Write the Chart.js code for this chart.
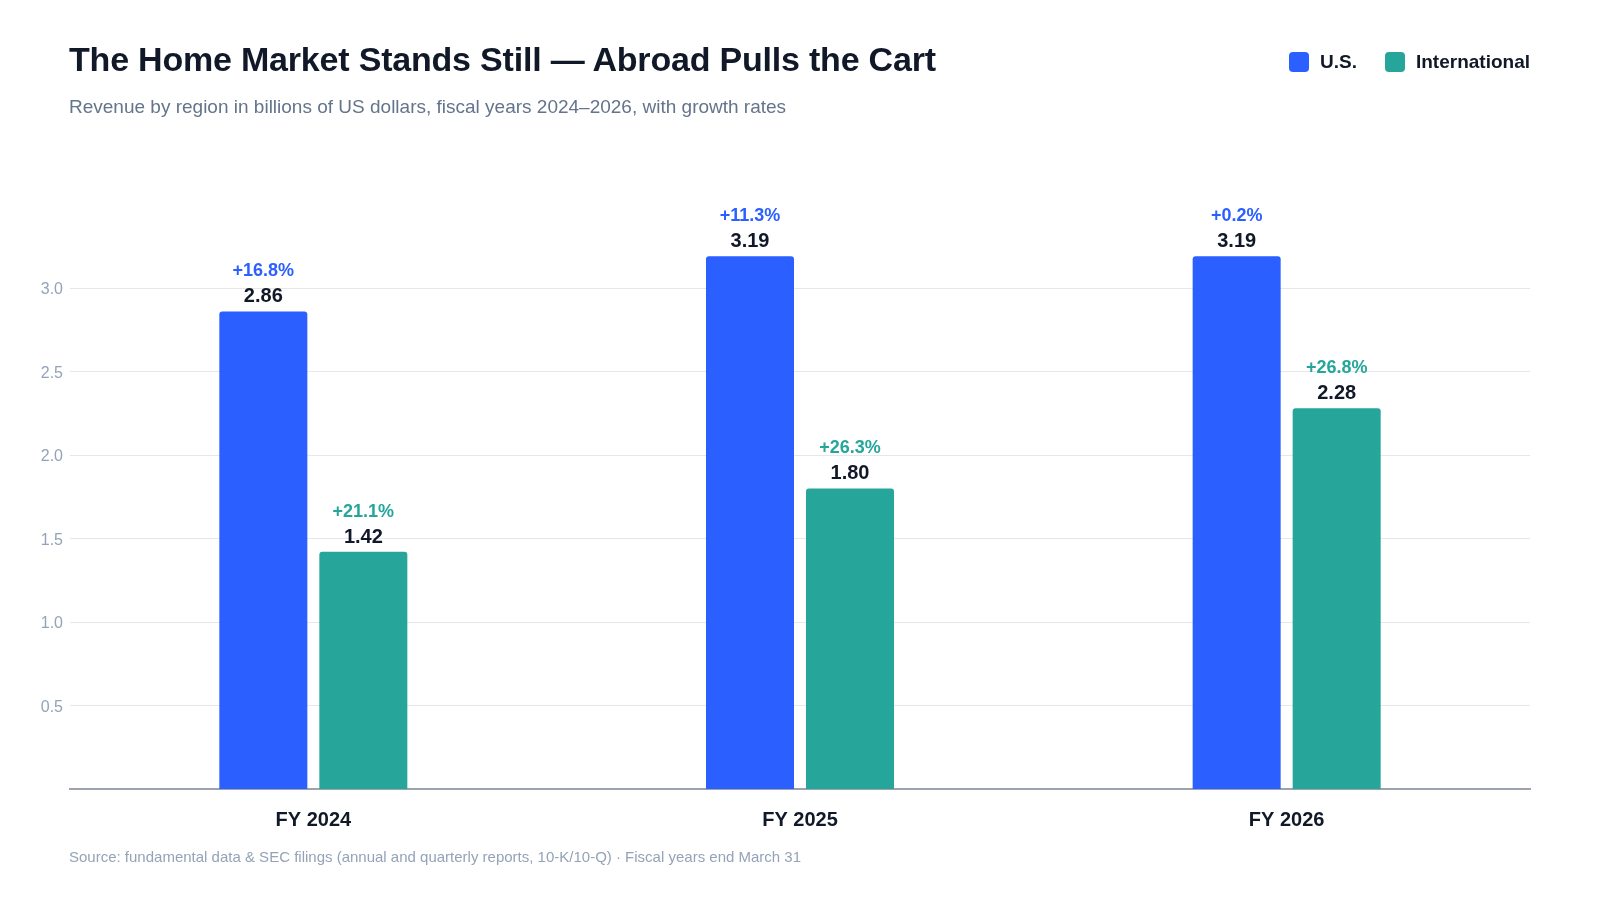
<!DOCTYPE html>
<html>
<head>
<meta charset="utf-8">
<script src="https://cdn.jsdelivr.net/npm/chart.js@4.4.1/dist/chart.umd.min.js"></script>
<style>
  html, body { margin: 0; padding: 0; background: #ffffff; }
  body { width: 1600px; height: 900px; position: relative; overflow: hidden;
         font-family: "Liberation Sans", Arial, sans-serif; }
  #wrap { position: absolute; left: 0; top: 0; width: 1600px; height: 900px; }
  .title { position: absolute; left: 69px; top: 42px; font-size: 34px; line-height: 1;
           font-weight: 700; color: #111827; white-space: nowrap; letter-spacing: -0.2px; }
  .subtitle { position: absolute; left: 69px; top: 97px; font-size: 19px; line-height: 1;
              color: #64748b; white-space: nowrap; }
  .legend { position: absolute; right: 70px; top: 52px; display: flex; align-items: center;
            font-size: 19px; font-weight: 700; color: #111827; line-height: 20px; }
  .legend span.item { display: flex; align-items: center; margin-left: 28px; }
  .legend span.sw { width: 20px; height: 20px; border-radius: 4px; margin-right: 11px; display: inline-block; }
  .source { position: absolute; left: 69px; top: 849px; font-size: 15px; line-height: 1;
            color: #94a3b8; white-space: nowrap; }
</style>
</head>
<body>
<div id="wrap"><canvas id="chart"></canvas></div>
<div class="title">The Home Market Stands Still — Abroad Pulls the Cart</div>
<div class="subtitle">Revenue by region in billions of US dollars, fiscal years 2024–2026, with growth rates</div>
<div class="legend">
  <span class="item"><span class="sw" style="background:#2b5fff"></span>U.S.</span>
  <span class="item"><span class="sw" style="background:#26a69a"></span>International</span>
</div>
<div class="source">Source: fundamental data &amp; SEC filings (annual and quarterly reports, 10-K/10-Q) · Fiscal years end March 31</div>

<script>
const categories = ["FY 2024", "FY 2025", "FY 2026"];
const usRevenue = [2.86, 3.19, 3.19];
const intlRevenue = [1.42, 1.80, 2.28];
const usGrowth = ["+16.8%", "+11.3%", "+0.2%"];
const intlGrowth = ["+21.1%", "+26.3%", "+26.8%"];

const US_COLOR = "#2b5fff";
const INTL_COLOR = "#26a69a";

// value + growth labels above every bar
const barLabels = {
    id: "barLabels",
    afterDatasetsDraw(chart) {
        const ctx = chart.ctx;
        ctx.save();
        ctx.textAlign = "center";
        ctx.textBaseline = "alphabetic";
        chart.data.datasets.forEach((ds, di) => {
            const meta = chart.getDatasetMeta(di);
            meta.data.forEach((bar, i) => {
                ctx.font = "700 20px 'Liberation Sans', Arial, sans-serif";
                ctx.fillStyle = "#111827";
                ctx.fillText(ds.data[i].toFixed(2), bar.x, bar.y - 9);
                ctx.font = "700 18px 'Liberation Sans', Arial, sans-serif";
                ctx.fillStyle = ds.backgroundColor;
                ctx.fillText(ds.growth[i], bar.x, bar.y - 35);
            });
        });
        ctx.restore();
    }
};

new Chart(document.getElementById("chart"), {
    type: "bar",
    data: {
        labels: categories,
        datasets: [
            {
                label: "U.S.",
                data: usRevenue,
                growth: usGrowth,
                backgroundColor: US_COLOR,
                borderRadius: 3,
                categoryPercentage: 0.411,
                barPercentage: 0.88
            },
            {
                label: "International",
                data: intlRevenue,
                growth: intlGrowth,
                backgroundColor: INTL_COLOR,
                borderRadius: 3,
                categoryPercentage: 0.411,
                barPercentage: 0.88
            }
        ]
    },
    options: {
        responsive: true,
        maintainAspectRatio: false,
        animation: false,
        layout: {
            padding: { top: 204.5, right: 70, bottom: 0, left: 0 }
        },
        plugins: {
            legend: { display: false },
            tooltip: { enabled: false }
        },
        scales: {
            x: {
                grid: { display: false, drawTicks: false },
                border: { color: "#9ca3af", width: 2 },
                ticks: {
                    padding: 19,
                    color: "#111827",
                    font: { family: "'Liberation Sans', Arial, sans-serif", size: 20, weight: "700" }
                },
                afterFit(scale) { scale.height = 111; }
            },
            y: {
                min: 0,
                max: 3.5,
                grid: { color: "#e5e7eb", lineWidth: 1, drawTicks: false },
                border: { display: false },
                ticks: {
                    stepSize: 0.5,
                    padding: 7,
                    labelOffset: 2,
                    color: "#94a3b8",
                    font: { family: "'Liberation Sans', Arial, sans-serif", size: 16 },
                    callback: (v) => v.toFixed(1)
                },
                afterBuildTicks(scale) {
                    scale.ticks = scale.ticks.filter(t => t.value > 0 && t.value <= 3.0);
                },
                afterFit(scale) { scale.width = 70; }
            }
        }
    },
    plugins: [barLabels]
});
</script>
</body>
</html>
